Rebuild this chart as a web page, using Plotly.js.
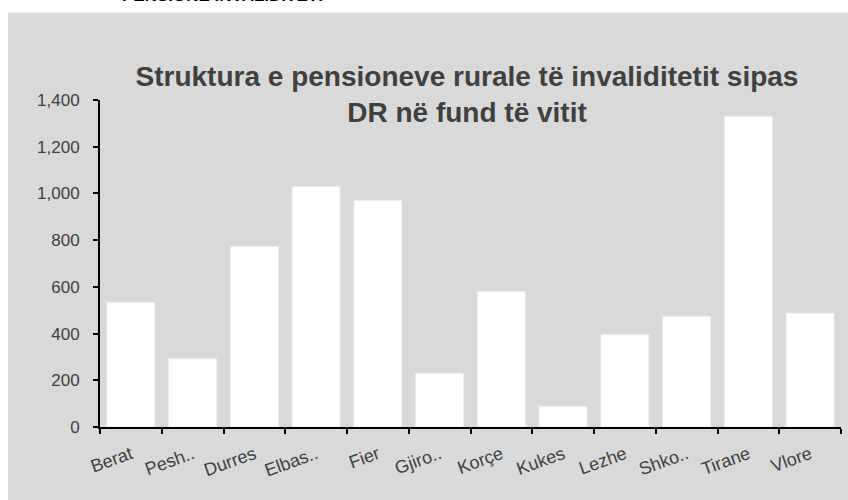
<!DOCTYPE html>
<html>
<head>
<meta charset="utf-8">
<script src="https://cdn.plot.ly/plotly-3.0.1.min.js"></script>
<style>html,body{margin:0;padding:0;background:#fff;}#chart{width:848px;height:500px;}</style>
</head>
<body>
<div id="chart"></div>
<script>
const categories = ["Berat", "Pesh..", "Durres", "Elbas..", "Fier", "Gjiro..", "Korçe", "Kukes", "Lezhe", "Shko..", "Tirane", "Vlore"];
const values = [534, 292, 773, 1029, 969, 230, 580, 88, 395, 474, 1330, 487];
const yTickVals = [0, 200, 400, 600, 800, 1000, 1200, 1400];
const titleText = "Struktura e pensioneve rurale të invaliditetit sipas<br>DR në fund të vitit";
const headerText = "PENSIONE INVALIDITETI";

const L = 100, R = 7, T = 99.5, B = 72.5, W = 848, H = 500;
const pw = W - L - R, ph = H - T - B;
const px = x => (x - L) / pw;
const py = y => (H - B - y) / ph;

const font = "Liberation Sans, Arial, sans-serif";

Plotly.newPlot("chart", [{
  type: "bar",
  x: categories,
  y: values,
  marker: {color: "#ffffff", line: {color: "#eeeeee", width: 1}},
  hoverinfo: "x+y"
}], {
  width: W, height: H,
  margin: {l: L, r: R, t: T, b: B, pad: 0},
  paper_bgcolor: "#ffffff",
  plot_bgcolor: "rgba(0,0,0,0)",
  bargap: 0.225,
  showlegend: false,
  font: {family: font, color: "#404040"},
  title: {
    text: titleText,
    font: {family: font, size: 28, color: "#404040", weight: "bold"},
    xref: "container", x: 467 / W, xanchor: "center",
    yref: "container", y: 1 - 86 / H, yanchor: "top"
  },
  xaxis: {
    type: "category",
    range: [-0.5, 11.5],
    showline: true, linecolor: "#000", linewidth: 2,
    ticks: "outside", tickson: "boundaries", ticklen: 5, tickwidth: 2, tickcolor: "#000",
    tickangle: -20,
    ticklabelstandoff: 8,
    tickfont: {family: font, size: 18, color: "#404040"},
    showgrid: false, zeroline: false, fixedrange: true
  },
  yaxis: {
    range: [0, 1400],
    tickvals: yTickVals,
    tickformat: ",",
    showline: true, linecolor: "#000", linewidth: 2,
    ticks: "outside", ticklen: 5, tickwidth: 2, tickcolor: "#000",
    ticklabelstandoff: 10,
    tickfont: {family: font, size: 17, color: "#404040"},
    showgrid: false, zeroline: false, fixedrange: true
  },
  shapes: [{
    type: "rect", layer: "below",
    xref: "paper", yref: "paper",
    x0: px(8), x1: px(849), y0: py(501), y1: py(12),
    fillcolor: "#d9d9d9", line: {width: 0}
  }],
  annotations: [{
    text: headerText, showarrow: false,
    xref: "paper", yref: "paper",
    x: px(120), xanchor: "left",
    y: py(6), yanchor: "bottom",
    font: {family: font, size: 17, color: "#000", weight: "bold"}
  }]
}, {displayModeBar: false, staticPlot: true});
</script>
</body>
</html>
